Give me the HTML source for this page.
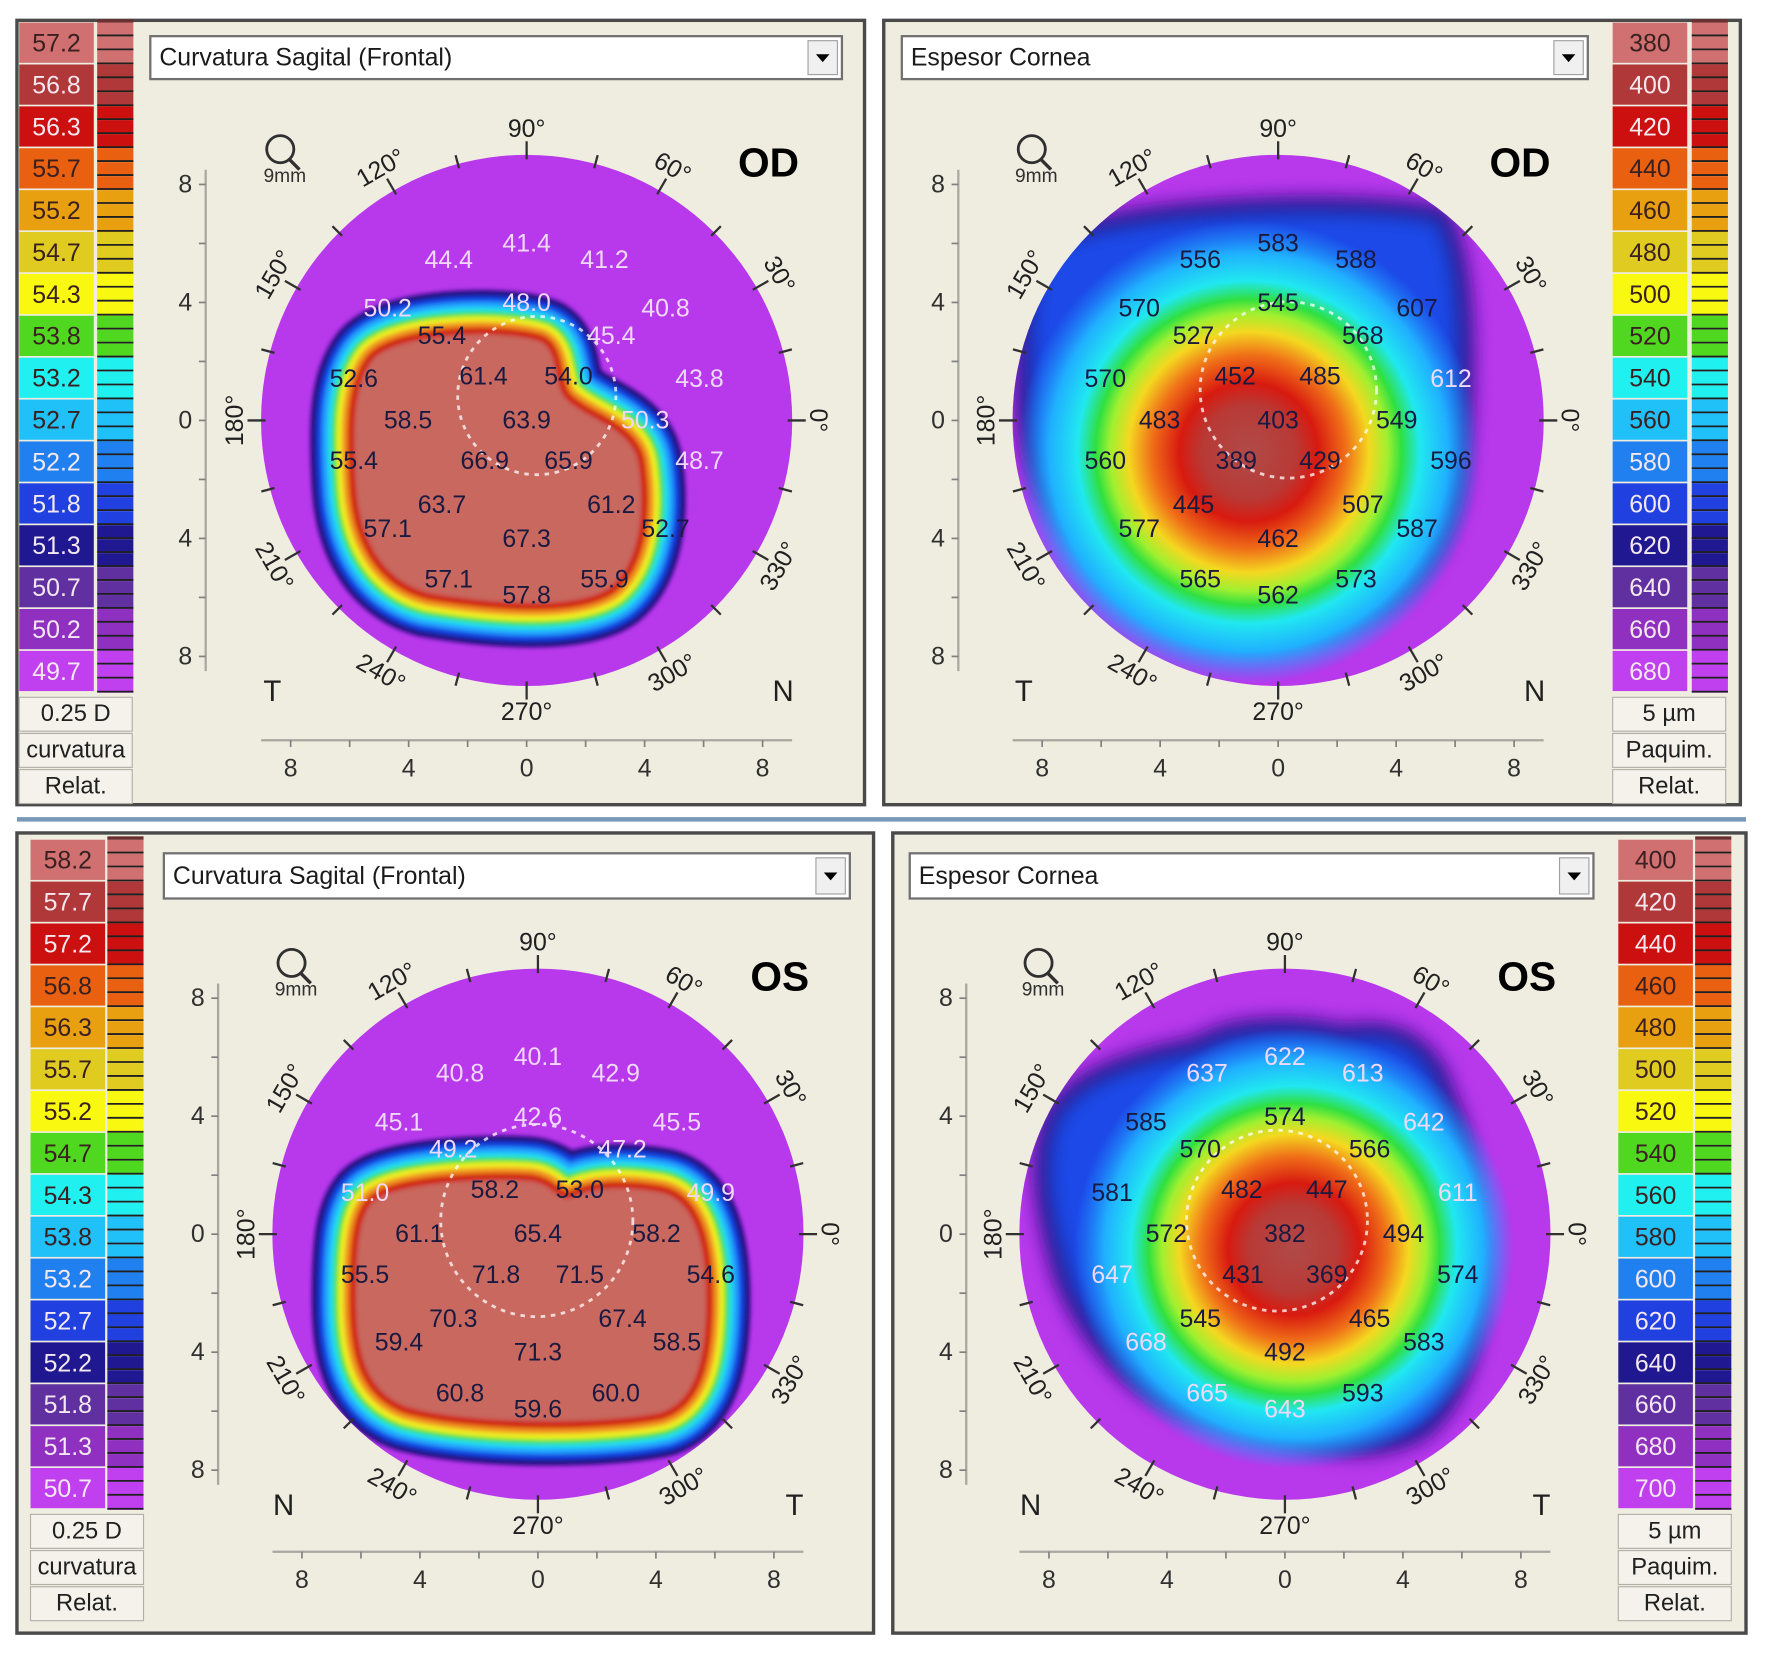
<!DOCTYPE html>
<html><head><meta charset="utf-8"><title>Topography maps</title>
<style>
html,body{margin:0;padding:0;background:#fff;}
svg{display:block;}
text{font-family:"Liberation Sans Narrow","Liberation Sans",sans-serif;}
</style></head>
<body>
<svg id="root" xmlns="http://www.w3.org/2000/svg" width="1772" height="1658" viewBox="0 0 1568 1467" preserveAspectRatio="none">
<defs>
<filter id="blur8" x="-20%" y="-20%" width="140%" height="140%"><feGaussianBlur stdDeviation="8"/></filter>
<filter id="blur3" x="-20%" y="-20%" width="140%" height="140%"><feGaussianBlur stdDeviation="2"/></filter>
<radialGradient id="thickGrad" cx="0.5" cy="0.5" r="0.5">
<stop offset="0" stop-color="#b04a48"/><stop offset="0.2" stop-color="#b83a36"/><stop offset="0.3" stop-color="#d81a10"/>
<stop offset="0.42" stop-color="#f07018"/><stop offset="0.52" stop-color="#f4d820"/><stop offset="0.6" stop-color="#a0f030"/>
<stop offset="0.66" stop-color="#30e040"/><stop offset="0.74" stop-color="#20e8f0"/><stop offset="0.86" stop-color="#20b0ff"/>
<stop offset="1" stop-color="#2090ff" stop-opacity="0"/>
</radialGradient>
</defs>
<rect x="0" y="0" width="1568" height="1467" fill="#ffffff"/>
<line x1="15" y1="725" x2="1545" y2="725" stroke="#7a98b8" stroke-width="4"/>
<g id="panels"></g>
</svg>
<script>
// ---- shared measurement grid (mm) ----
const gridX = [0,-2.64,2.64,-4.71,0,4.71,-2.87,2.87,-5.86,-1.46,1.42,5.86,-4.02,0,4.02,-5.86,-1.42,1.42,5.86,-2.87,2.87,-4.71,0,4.71,-2.64,0,2.64];
const gridY = [6.0,5.44,5.44,3.79,3.98,3.79,2.87,2.87,1.4,1.49,1.49,1.4,0,0,0,-1.38,-1.38,-1.38,-1.38,-2.87,-2.87,-3.68,-4.02,-3.68,-5.4,-5.94,-5.4];
// ---- values per map ----
const odCurvValues = [41.4,44.4,41.2,50.2,48.0,40.8,55.4,45.4,52.6,61.4,54,43.8,58.5,63.9,50.3,55.4,66.9,65.9,48.7,63.7,61.2,57.1,67.3,52.7,57.1,57.8,55.9];
const odThickValues = [583,556,588,570,545,607,527,568,570,452,485,612,483,403,549,560,389,429,596,445,507,577,462,587,565,562,573];
const osCurvValues = [40.1,40.8,42.9,45.1,42.6,45.5,49.2,47.2,51.0,58.2,53.0,49.9,61.1,65.4,58.2,55.5,71.8,71.5,54.6,70.3,67.4,59.4,71.3,58.5,60.8,59.6,60.0];
const osThickValues = [622,637,613,585,574,642,570,566,581,482,447,611,572,382,494,647,431,369,574,545,465,668,492,583,665,643,593];
// ---- legend scales ----
const odCurvScale = ["57.2","56.8","56.3","55.7","55.2","54.7","54.3","53.8","53.2","52.7","52.2","51.8","51.3","50.7","50.2","49.7"];
const osCurvScale = ["58.2","57.7","57.2","56.8","56.3","55.7","55.2","54.7","54.3","53.8","53.2","52.7","52.2","51.8","51.3","50.7"];
const odThickScale = ["380","400","420","440","460","480","500","520","540","560","580","600","620","640","660","680"];
const osThickScale = ["400","420","440","460","480","500","520","540","560","580","600","620","640","660","680","700"];
const axisTicks = [8,4,0,4,8];
const angleLabels = [0,30,60,90,120,150,180,210,240,270,300,330];

const legendColors = ["#d07070","#b03838","#cc1010","#e86010","#e8a010","#e0cc20","#f8f810","#50d820","#20f0f0","#20c0f8","#2080f0","#2040e0","#201890","#6030a0","#9030c0","#c040f0"];
const legendWhite = [false,true,true,false,false,false,false,false,false,false,true,true,true,true,true,true];

const NS = "http://www.w3.org/2000/svg";
const root = document.getElementById('panels');
const MM = 26.1;
function el(tag, attrs, parent){ const e=document.createElementNS(NS,tag); for(const k in attrs) e.setAttribute(k,attrs[k]); (parent||root).appendChild(e); return e; }
function txt(x,y,s,size,fill,parent,extra){ const t=el('text',Object.assign({x:x,y:y,'font-size':size,fill:fill,'text-anchor':'middle','dominant-baseline':'central'},extra||{}),parent); t.textContent=s; return t; }

const panels = [
 {id:'od-curvature',cx:466,cy:372,frame:[15,18,750,694],bg:[120,20,642,690],dd:[133,32,612,38],title:"Curvatura Sagital (Frontal)",eye:"OD",lx:17,sx:86,lt:20,legend:odCurvScale,foot:["0.25 D","curvatura","Relat."],vx:182,hy:655,left:"T",right:"N",type:'curv',values:odCurvValues,thr:52,
  blob:"M 330,318 C 350,295 440,290 478,302 C 495,310 490,340 500,352 C 520,372 560,378 565,410 C 572,455 565,500 540,520 C 510,540 440,535 380,525 C 340,515 318,480 315,430 C 312,380 312,340 330,318 Z",dash:[475,350,70]},
 {id:'od-thickness',cx:1131,cy:372,frame:[782,18,758,694],bg:[785,20,640,690],dd:[798,32,607,38],title:"Espesor Cornea",eye:"OD",lx:1427,sx:1497,lt:20,legend:odThickScale,foot:["5 µm","Paquim.","Relat."],vx:848,hy:655,left:"T",right:"N",type:'thick',values:odThickValues,thr:610,
  blob:"M 925,215 C 990,180 1200,175 1275,190 C 1300,230 1300,330 1290,420 C 1280,500 1225,555 1130,562 C 1050,565 1000,520 950,470 C 915,430 905,390 906,330 C 906,270 910,235 925,215 Z",grad:[1105,400,205],dash:[1140,345,78]},
 {id:'os-curvature',cx:476,cy:1092,frame:[15,737,758,708],bg:[133,739,637,704],dd:[145,755,607,40],title:"Curvatura Sagital (Frontal)",eye:"OS",lx:27,sx:95,lt:743,legend:osCurvScale,foot:["0.25 D","curvatura","Relat."],vx:193,hy:1373,left:"N",right:"T",type:'curv',values:osCurvValues,thr:52,
  blob:"M 335,1060 C 360,1045 440,1042 470,1045 C 490,1048 492,1062 505,1060 C 520,1052 545,1048 585,1055 C 615,1062 625,1100 625,1150 C 625,1205 615,1240 585,1250 C 540,1260 420,1262 360,1245 C 325,1232 315,1200 315,1150 C 315,1100 318,1068 335,1060 Z",dash:[475,1080,85]},
 {id:'os-thickness',cx:1137,cy:1092,frame:[790,737,755,708],bg:[793,739,637,704],dd:[805,755,605,40],title:"Espesor Cornea",eye:"OS",lx:1432,sx:1500,lt:743,legend:osThickScale,foot:["5 µm","Paquim.","Relat."],vx:855,hy:1373,left:"N",right:"T",type:'thick',values:osThickValues,thr:610,
  blob:"M 930,990 C 950,950 1010,935 1060,925 C 1090,905 1150,905 1190,915 C 1240,905 1270,930 1280,970 C 1300,1010 1300,1060 1305,1110 C 1310,1170 1300,1230 1260,1265 C 1200,1300 1120,1265 1060,1250 C 1000,1235 960,1180 940,1130 C 925,1080 915,1030 930,990 Z",grad:[1145,1105,195],dash:[1130,1080,80]}
];

panels.forEach(function(p){
  const g = el('g',{});
  
  
  const fr = el('rect',{x:p.frame[0],y:p.frame[1],width:p.frame[2],height:p.frame[3],fill:'#efece0',stroke:'#4a4a4a','stroke-width':3},g);
  
  
  // legend
  const lg = el('g',{},g);
  
  
  const rowH = 37.06;
  p.legend.forEach(function(lab,i){
    const y = p.lt + i*rowH;
    el('rect',{x:p.lx,y:y,width:66,height:rowH-1.5,fill:legendColors[i]},lg);
    const t = txt(p.lx+33,y+rowH/2,lab,22,legendWhite[i]?'#f4e8f0':'#3a2020',lg);
    
    
    for(let k=0;k<3;k++){
      const yy = y + k*rowH/3;
      el('rect',{x:p.sx,y:yy,width:32,height:rowH/3,fill:legendColors[Math.min(15,i)]},lg);
      el('line',{x1:p.sx,y1:yy+rowH/3-1,x2:p.sx+32,y2:yy+rowH/3-1,stroke:'#202020','stroke-width':1.6},lg);
    }
  });
  el('rect',{x:p.sx,y:p.lt-3,width:32,height:3,fill:'#6a3030'},lg);
  const fy = p.lt + 16*rowH + 4;
  p.foot.forEach(function(f,i){
    el('rect',{x:p.lx,y:fy+i*32,width:100,height:30,fill:'#f4f2ea',stroke:'#b0b0a8','stroke-width':1},lg);
    const t = txt(p.lx+50,fy+i*32+15,f,21,'#202020',lg);
    
    
  });
  // dropdown
  const dd = el('g',{},g);
  
  
  el('rect',{x:p.dd[0],y:p.dd[1],width:p.dd[2],height:p.dd[3],fill:'#ffffff',stroke:'#707070','stroke-width':2},dd);
  el('rect',{x:p.dd[0]+p.dd[2]-30,y:p.dd[1]+4,width:26,height:p.dd[3]-8,fill:'#f0f0f0',stroke:'#a0a0a0','stroke-width':1},dd);
  el('path',{d:'M '+(p.dd[0]+p.dd[2]-23)+' '+(p.dd[1]+p.dd[3]/2-3)+' l 12 0 l -6 7 z',fill:'#000'},dd);
  el('text',{x:p.dd[0]+8,y:p.dd[1]+p.dd[3]/2,'font-size':22,fill:'#1a1a1a','dominant-baseline':'central'},dd).textContent=p.title;
  // map
  const mp = el('g',{},g);
  
  
  const clipId = 'clip-'+p.id;
  const cp = el('clipPath',{id:clipId},mp);
  el('circle',{cx:p.cx,cy:p.cy,r:235},cp);
  el('circle',{cx:p.cx,cy:p.cy,r:235,fill:'#b838ec'},mp);
  const inner = el('g',{'clip-path':'url(#'+clipId+')'},mp);
  if(p.type==='curv'){
    const bg2 = el('g',{filter:'url(#blur3)'},inner);
    const bands=[[78,'#1a0a7a'],[68,'#1840e0'],[58,'#20a0ff'],[48,'#20e0f0'],[40,'#40e040'],[32,'#f0f020'],[22,'#f09020'],[12,'#d02010']];
    bands.forEach(function(b){ el('path',{d:p.blob,fill:'none',stroke:b[1],'stroke-width':b[0],'stroke-linejoin':'round'},bg2); });
    el('path',{d:p.blob,fill:'#c8685e'},bg2);
  } else {
    el('path',{d:p.blob,fill:'#1e48e8',stroke:'#1a1080','stroke-width':14,filter:'url(#blur8)'},inner);
    el('circle',{cx:p.grad[0],cy:p.grad[1],r:p.grad[2],fill:'url(#thickGrad)'},inner);
  }
  el('circle',{cx:p.dash[0],cy:p.dash[1],r:p.dash[2],fill:'none',stroke:'#ffffff','stroke-width':2.5,'stroke-dasharray':'4 5',opacity:0.75},mp);
  // labels
  p.values.forEach(function(v,i){
    const x = p.cx + gridX[i]*MM, y = p.cy - gridY[i]*MM;
    const white = p.type==='curv' ? v < p.thr : v >= p.thr;
    const s = p.type==='curv' ? v.toFixed(1) : String(v);
    const t = txt(x,y,s,22,white?'#f0d8f8':'#1a1a40',mp);
    
    
  });
  // angle ticks & labels
  for(let a=0;a<360;a+=15){
    const r=a*Math.PI/180, c=Math.cos(r), s=Math.sin(r);
    const len = a%30===0?12:8;
    el('line',{x1:p.cx+c*(235-4),y1:p.cy-s*(235-4),x2:p.cx+c*(235+len),y2:p.cy-s*(235+len),stroke:'#303030','stroke-width':2},mp);
  }
  angleLabels.forEach(function(a){
    const r=a*Math.PI/180;
    const x=p.cx+Math.cos(r)*258, y=p.cy-Math.sin(r)*258;
    const rot = (a<=180 && a>=0 && a!==0) ? 90-a : (a===0?90:270-a);
    const t = txt(x,y,a+'°',22,'#202020',mp,{transform:'rotate('+rot+' '+x+' '+y+')'});
    
    
  });
  // axes
  const ax = el('g',{},g);
  
  
  el('line',{x1:p.vx,y1:p.cy-8.5*MM,x2:p.vx,y2:p.cy+8.5*MM,stroke:'#a8a8a0','stroke-width':2},ax);
  el('line',{x1:p.cx-9*MM,y1:p.hy,x2:p.cx+9*MM,y2:p.hy,stroke:'#a8a8a0','stroke-width':2},ax);
  for(let m=-8;m<=8;m+=2){
    el('line',{x1:p.vx-6,y1:p.cy-m*MM,x2:p.vx,y2:p.cy-m*MM,stroke:'#808080','stroke-width':1.5},ax);
    el('line',{x1:p.cx+m*MM,y1:p.hy,x2:p.cx+m*MM,y2:p.hy+6,stroke:'#808080','stroke-width':1.5},ax);
  }
  axisTicks.forEach(function(v,i){
    const m = 8 - i*4;
    txt(p.vx-18,p.cy-m*MM,String(v),22,'#303030',ax);
    txt(p.cx-m*MM,p.hy+25,String(v),22,'#303030',ax);
  });
  // side letters, eye, magnifier
  txt(p.cx-225,p.cy+240,p.left,26,'#202020',g);
  txt(p.cx+227,p.cy+240,p.right,26,'#202020',g);
  const eye = txt(p.cx+214,p.cy-228,p.eye,36,'#000',g,{'font-weight':'bold','font-family':'Liberation Sans, sans-serif'});
  
  
  const mg = el('g',{},g);
  
  
  const mx = p.cx-218, my = p.cy-240;
  el('circle',{cx:mx,cy:my,r:12,fill:'none',stroke:'#303030','stroke-width':2.5},mg);
  el('line',{x1:mx+8,y1:my+9,x2:mx+17,y2:my+18,stroke:'#303030','stroke-width':3},mg);
  txt(mx+4,my+24,'9mm',17,'#303030',mg);
});
</script>
</body></html>
